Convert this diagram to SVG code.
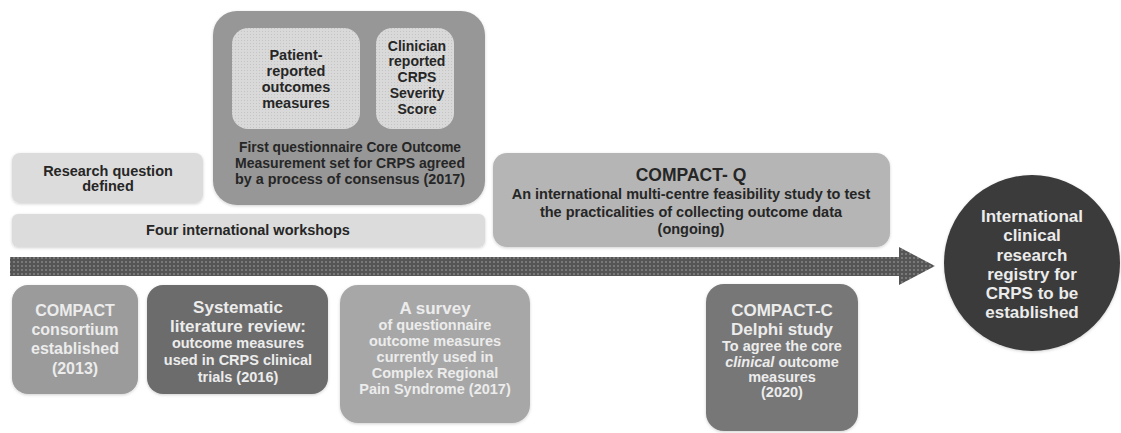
<svg xmlns="http://www.w3.org/2000/svg" width="1121" height="433" viewBox="0 0 1121 433">
<style>
text{font-family:"Liberation Sans",Arial,sans-serif;font-weight:bold;text-anchor:middle;dominant-baseline:central}
.dk{fill:#262626}
.lt{fill:#ececec}
.s14{font-size:14px}
.s145{font-size:14.5px}
.s16{font-size:16px}
.s17{font-size:17px}
</style>
<defs>
<pattern id="dotsDark" width="4" height="4" patternUnits="userSpaceOnUse">
<rect width="4" height="4" fill="#555"/>
<rect x="1" y="1" width="2" height="2" fill="#797979"/>
</pattern>
<pattern id="dotsLight" width="3" height="3" patternUnits="userSpaceOnUse">
<rect width="3" height="3" fill="#d9d9d9"/>
<rect x="1" y="1" width="1" height="1" fill="#c4c4c4"/>
</pattern>
<filter id="sh" x="-10%" y="-10%" width="120%" height="120%">
<feDropShadow dx="0" dy="1" stdDeviation="1.5" flood-color="#000" flood-opacity="0.18"/>
</filter>
</defs>
<rect width="1121" height="433" fill="#ffffff"/>

<g id="connectors">
<path d="M10,257 H899 V247 L935,266 L899,285 V276 H10 Z" fill="url(#dotsDark)"/>
</g>

<g id="core-set">
<rect x="213" y="11" width="272" height="194" rx="24" fill="#979797" filter="url(#sh)"/>
<rect x="232" y="28" width="128" height="101" rx="16" fill="url(#dotsLight)"/>
<rect x="376" y="28" width="78" height="101" rx="16" fill="url(#dotsLight)"/>
<text class="dk s145" x="296" y="55">Patient-</text>
<text class="dk s145" x="296" y="71">reported</text>
<text class="dk s145" x="296" y="87">outcomes</text>
<text class="dk s145" x="296" y="103">measures</text>
<text class="dk s14" x="417" y="46">Clinician</text>
<text class="dk s14" x="417" y="61">reported</text>
<text class="dk s14" x="417" y="77">CRPS</text>
<text class="dk s14" x="417" y="93">Severity</text>
<text class="dk s14" x="417" y="109">Score</text>
<text class="dk s145" x="350" y="147" textLength="222" lengthAdjust="spacingAndGlyphs">First questionnaire Core Outcome</text>
<text class="dk s145" x="350" y="163" textLength="230" lengthAdjust="spacingAndGlyphs">Measurement set for CRPS agreed</text>
<text class="dk s145" x="350" y="179" textLength="230" lengthAdjust="spacingAndGlyphs">by a process of consensus (2017)</text>
</g>

<g id="research-question">
<rect x="12" y="153" width="191" height="50" rx="8" fill="#dcdcdc" filter="url(#sh)"/>
<text class="dk s145" x="108" y="171">Research question</text>
<text class="dk s145" x="108" y="186">defined</text>
</g>

<g id="workshops">
<rect x="12" y="214" width="473" height="33" rx="6" fill="#dcdcdc" filter="url(#sh)"/>
<text class="dk s145" x="248" y="230">Four international workshops</text>
</g>

<g id="compact-q">
<rect x="493" y="153" width="397" height="94" rx="14" fill="#b5b5b5" filter="url(#sh)"/>
<text class="dk s17" x="691" y="175" style="font-size:17.5px">COMPACT- Q</text>
<text class="dk s145" x="691" y="194">An international multi-centre feasibility study to test</text>
<text class="dk s145" x="691" y="212">the practicalities of collecting outcome data</text>
<text class="dk s145" x="691" y="229">(ongoing)</text>
</g>

<g id="consortium">
<rect x="12" y="285" width="126" height="109" rx="16" fill="#9b9b9b" filter="url(#sh)"/>
<text class="lt s16" x="75" y="310">COMPACT</text>
<text class="lt s16" x="75" y="329">consortium</text>
<text class="lt s16" x="75" y="348">established</text>
<text class="lt s16" x="75" y="368">(2013)</text>
</g>

<g id="systematic-review">
<rect x="147" y="285" width="181" height="109" rx="16" fill="#6c6c6c" filter="url(#sh)"/>
<text class="lt s17" x="238" y="307">Systematic</text>
<text class="lt s17" x="238" y="326">literature review:</text>
<text class="lt s145" x="238" y="343">outcome measures</text>
<text class="lt s145" x="238" y="360">used in CRPS clinical</text>
<text class="lt s145" x="238" y="377">trials (2016)</text>
</g>

<g id="survey">
<rect x="340" y="285" width="190" height="138" rx="18" fill="#a7a7a7" filter="url(#sh)"/>
<text class="lt s17" x="435" y="308">A survey</text>
<text class="lt s145" x="435" y="325">of questionnaire</text>
<text class="lt s145" x="435" y="341">outcome measures</text>
<text class="lt s145" x="435" y="357">currently used in</text>
<text class="lt s145" x="435" y="373">Complex Regional</text>
<text class="lt s145" x="435" y="389">Pain Syndrome (2017)</text>
</g>

<g id="compact-c">
<rect x="706" y="284" width="152" height="147" rx="18" fill="#777777" filter="url(#sh)"/>
<text class="lt s17" x="782" y="310">COMPACT-C</text>
<text class="lt s17" x="782" y="329">Delphi study</text>
<text class="lt s145" x="782" y="346">To agree the core</text>
<text class="lt s145" x="782" y="362"><tspan font-style="italic">clinical</tspan> outcome</text>
<text class="lt s145" x="782" y="377">measures</text>
<text class="lt s145" x="782" y="392">(2020)</text>
</g>

<g id="registry">
<circle cx="1032" cy="263" r="88" fill="#3a3a3a" filter="url(#sh)"/>
<text class="lt s17" x="1032" y="216">International</text>
<text class="lt s17" x="1032" y="235">clinical</text>
<text class="lt s17" x="1032" y="255">research</text>
<text class="lt s17" x="1032" y="274">registry for</text>
<text class="lt s17" x="1032" y="293">CRPS to be</text>
<text class="lt s17" x="1032" y="312">established</text>
</g>
</svg>
